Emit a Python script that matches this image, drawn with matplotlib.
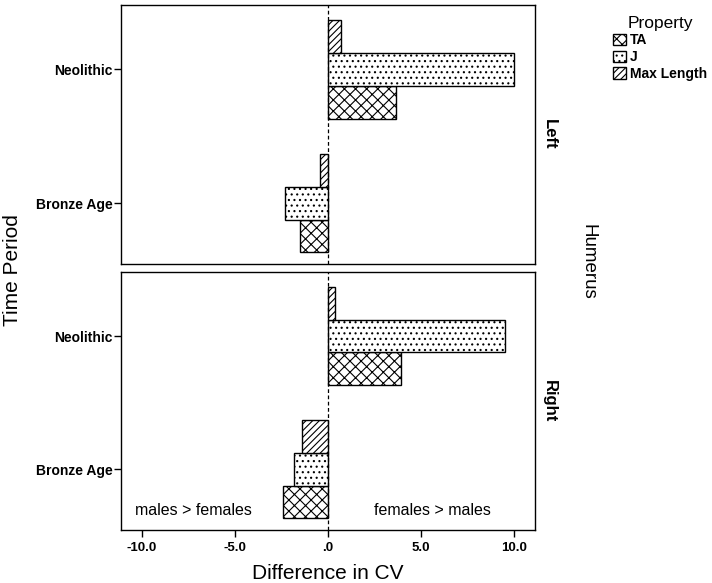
import matplotlib.pyplot as plt
import numpy as np
from matplotlib.patches import Patch

plt.rcParams['font.family'] = ['Liberation Sans', 'DejaVu Sans']
plt.rcParams['hatch.linewidth'] = 0.8

# data
periods = ['Bronze Age', 'Neolithic']
properties = ['TA', 'J', 'Max Length']
hatches = ['xxx', '...', '/////']
sides = ['Left', 'Right']
# difference in CV per side, per property, per period (Bronze Age, Neolithic)
left_vals = {'TA': [-1.5, 3.65], 'J': [-2.3, 10.0], 'Max Length': [-0.43, 0.7]}
right_vals = {'TA': [-2.4, 3.9], 'J': [-1.8, 9.5], 'Max Length': [-1.4, 0.4]}
xticks = [-10, -5, 0, 5, 10]
xticklabels = ['-10.0', '-5.0', '.0', '5.0', '10.0']

fig = plt.figure(figsize=(7.12, 5.83), dpi=100)
ax_top = fig.add_axes([0.170, 0.547, 0.581, 0.444])
ax_bot = fig.add_axes([0.170, 0.091, 0.581, 0.442])

h = 0.245
offsets = [-h, 0, h]  # TA lowest, Max Length highest
y = np.arange(len(periods))

for ax, side, vals in [(ax_top, 'Left', left_vals), (ax_bot, 'Right', right_vals)]:
    for prop, hatch, off in zip(properties, hatches, offsets):
        ax.barh(y + off, vals[prop], height=h, color='white', edgecolor='black',
                hatch=hatch, linewidth=1.0)
    ax.axvline(0, color='black', linestyle='--', linewidth=0.9, dashes=(3, 2))
    ax.set_xlim(-11.1, 11.1)
    ax.set_ylim(-0.455, 1.48)
    ax.set_yticks(y)
    ax.set_yticklabels(periods, fontsize=10, fontweight='bold')
    ax.tick_params(axis='y', direction='out', length=5, width=1, pad=1)
    ax.text(1.035, 0.5, side, transform=ax.transAxes, rotation=-90,
            fontsize=12, fontweight='bold', va='center', ha='center')
    for s in ax.spines.values():
        s.set_linewidth(1.0)

ax_top.set_xticks([])
ax_bot.set_xticks(xticks)
ax_bot.set_xticklabels(xticklabels, fontsize=9.5, fontweight='bold')
ax_bot.tick_params(axis='x', direction='out', length=5, width=1)

ax_bot.text(-7.2, -0.31, 'males > females', fontsize=11.5, ha='center', va='center')
ax_bot.text(5.6, -0.31, 'females > males', fontsize=11.5, ha='center', va='center')

fig.text(0.46, 0.017, 'Difference in CV', fontsize=15, ha='center', va='center')
fig.text(0.018, 0.537, 'Time Period', fontsize=15, rotation=90, ha='center', va='center')
fig.text(0.826, 0.551, 'Humerus', fontsize=13.5, rotation=-90, ha='center', va='center')

handles = [Patch(facecolor='white', edgecolor='black', hatch=hh, label=p)
           for p, hh in zip(properties, hatches)]
leg = fig.legend(handles=handles, loc='upper left', bbox_to_anchor=(0.848, 0.99),
                 title='Property', frameon=False, prop={'size': 10, 'weight': 'bold'},
                 title_fontsize=12.5, handlelength=0.9, handleheight=0.9,
                 handletextpad=0.3, labelspacing=0.2, borderpad=0.2)

plt.savefig('out.png', dpi=100)
